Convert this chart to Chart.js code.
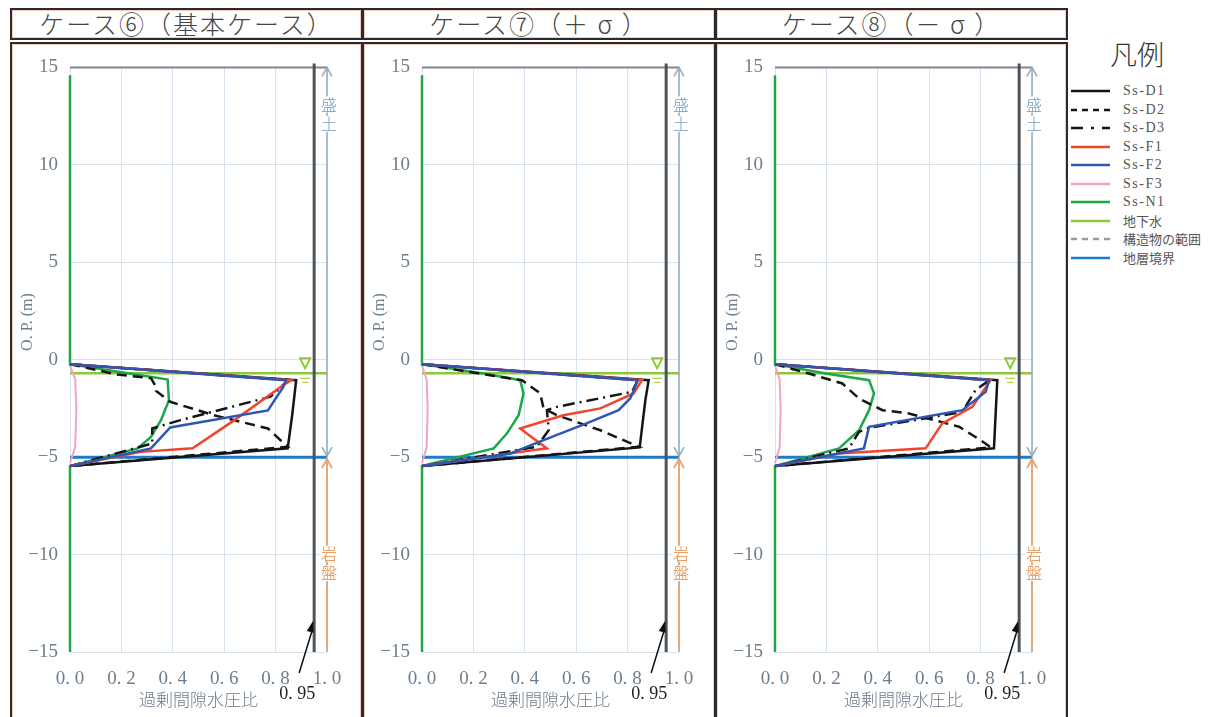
<!DOCTYPE html>
<html>
<head>
<meta charset="utf-8">
<script src="https://cdn.jsdelivr.net/npm/chart.js@4.4.0/dist/chart.umd.min.js"></script>
<style>
  body { margin:0; background:#fff; width:1225px; height:717px; position:relative; overflow:hidden;
         font-family:"Noto Sans CJK JP", sans-serif; }
  .hdr { position:absolute; top:8px; height:32px; box-sizing:border-box; border:2px solid #2b2b2b;
         box-shadow: inset 0 0 0 1px #f3cdbf; text-align:center; font-size:25px; line-height:27px; color:#444;
         font-weight:300; letter-spacing:2px; }
  .panel { position:absolute; top:42px; height:690px; box-sizing:border-box; border:2px solid #2b2b2b;
           box-shadow: inset 0 0 0 1px #f3cdbf; }
  canvas { position:absolute; }
  #legend { position:absolute; left:1068px; top:30px; width:157px; }
  #legend .ttl { position:absolute; left:42px; top:4px; font-size:27px; color:#333; font-weight:300; }
  #legend .it { position:absolute; left:0; height:18px; font-size:13px; color:#555; white-space:nowrap; }
  #legend .it svg { position:absolute; left:2px; top:4px; }
  #legend .it span { position:absolute; left:55px; top:0; line-height:18px; }
  .ser { font-family:"Liberation Serif", serif; letter-spacing:1.5px; font-size:14px; }
</style>
</head>
<body>
<div id="frames"></div>
<div id="legend"><div class="ttl">凡例</div></div>
<script>
// ---- data ----
const caseTitles = ['ケース⑥（基本ケース）', 'ケース⑦（＋ σ ）', 'ケース⑧（－ σ ）'];
const seriesNames = ['Ss-D1', 'Ss-D2', 'Ss-D3', 'Ss-F1', 'Ss-F2', 'Ss-F3', 'Ss-N1'];
const xTicks = [0, 0.2, 0.4, 0.6, 0.8, 1.0];
const yTicks = [15, 10, 5, 0, -5, -10, -15];
const groundwaterLevel = -0.7;
const layerBoundary = -5.0;
const limitRatio = 0.95;
const fillTop = 15;

// case 6 [ratio, O.P.]
const c6_D1 = [[0,-0.23],[0.88,-1.05],[0.865,-2.8],[0.847,-4.55],[0,-5.46]];
const c6_D2 = [[0,-0.23],[0.18,-0.75],[0.315,-0.95],[0.335,-1.4],[0.335,-1.6],[0.39,-2.16],[0.56,-2.85],[0.77,-3.53],[0.847,-4.47],[0,-5.46]];
const c6_D3 = [[0,-0.23],[0.85,-1.05],[0.78,-1.9],[0.43,-3.1],[0.32,-3.53],[0.32,-4.3],[0,-5.46]];
const c6_F1 = [[0,-0.23],[0.86,-1.05],[0.82,-1.4],[0.64,-3.1],[0.477,-4.55],[0.276,-4.73],[0,-5.46]];
const c6_F2 = [[0,-0.23],[0.84,-1.05],[0.83,-1.4],[0.77,-2.6],[0.39,-3.48],[0.315,-4.55],[0,-5.46]];
const c6_F3 = [[0,-0.3],[0.02,-1.0],[0.025,-2.5],[0.02,-4.5],[0,-5.3]];
const c6_N1 = [[0,14.6],[0,-0.23],[0.25,-0.75],[0.38,-1.02],[0.385,-2.08],[0.354,-3.1],[0.315,-3.96],[0.263,-4.55],[0,-5.46],[0,-15]];

// case 7
const c7_D1 = [[0,-0.23],[0.882,-1.05],[0.869,-2.08],[0.847,-4.5],[0,-5.46]];
const c7_D2 = [[0,-0.23],[0.24,-0.75],[0.389,-1.05],[0.46,-1.73],[0.473,-2.5],[0.525,-2.85],[0.694,-3.62],[0.843,-4.47],[0,-5.46]];
const c7_D3 = [[0,-0.23],[0.84,-1.05],[0.817,-1.65],[0.525,-2.42],[0.486,-2.59],[0.493,-3.62],[0.447,-4.47],[0,-5.46]];
const c7_F1 = [[0,-0.23],[0.856,-1.05],[0.823,-1.73],[0.694,-2.5],[0.55,-2.85],[0.382,-3.53],[0.434,-4.04],[0.486,-4.55],[0.434,-4.64],[0,-5.46]];
const c7_F2 = [[0,-0.23],[0.837,-1.05],[0.83,-1.4],[0.81,-1.99],[0.765,-2.59],[0.64,-3.27],[0.473,-4.13],[0.344,-4.81],[0,-5.46]];
const c7_F3 = [[0,-0.3],[0.018,-1.0],[0.022,-2.5],[0.018,-4.5],[0,-5.3]];
const c7_N1 = [[0,14.6],[0,-0.23],[0.24,-0.71],[0.382,-1.05],[0.395,-1.73],[0.376,-2.85],[0.33,-3.79],[0.279,-4.55],[0,-5.46],[0,-15]];

// case 8
const c8_D1 = [[0,-0.23],[0.865,-1.05],[0.852,-4.55],[0,-5.46]];
const c8_D2 = [[0,-0.23],[0.132,-0.71],[0.262,-1.22],[0.327,-1.99],[0.418,-2.59],[0.521,-2.76],[0.716,-3.44],[0.8,-4.13],[0.84,-4.5],[0,-5.46]];
const c8_D3 = [[0,-0.23],[0.835,-1.05],[0.78,-1.56],[0.729,-2.68],[0.366,-3.5],[0.327,-3.7],[0.288,-4.55],[0,-5.46]];
const c8_F1 = [[0,-0.23],[0.839,-1.05],[0.768,-2.42],[0.651,-3.27],[0.586,-4.55],[0.25,-4.81],[0,-5.46]];
const c8_F2 = [[0,-0.23],[0.833,-1.05],[0.82,-1.65],[0.729,-2.59],[0.366,-3.44],[0.346,-4.55],[0,-5.46]];
const c8_F3 = [[0,-0.3],[0.018,-1.0],[0.022,-2.5],[0.018,-4.5],[0,-5.3]];
const c8_N1 = [[0,14.6],[0,-0.23],[0.197,-0.71],[0.366,-1.05],[0.385,-1.73],[0.366,-2.59],[0.327,-3.62],[0.249,-4.55],[0,-5.46],[0,-15]];

const cases = [
  [c6_D1, c6_D2, c6_D3, c6_F1, c6_F2, c6_F3, c6_N1],
  [c7_D1, c7_D2, c7_D3, c7_F1, c7_F2, c7_F3, c7_N1],
  [c8_D1, c8_D2, c8_D3, c8_F1, c8_F2, c8_F3, c8_N1]
];

// ---- styles ----
const seriesStyle = [
  { color:'#151515', dash:[], order:3 },
  { color:'#151515', dash:[10,6], order:4 },
  { color:'#151515', dash:[12,5,2,5], order:2 },
  { color:'#f2432c', dash:[], order:1 },
  { color:'#2f55b5', dash:[], order:0 },
  { color:'#f4a3c6', dash:[], order:6 },
  { color:'#1ea64a', dash:[], order:5 }
];
const gwColor = '#8dc63f';
const boundaryColor = '#1f7bc8';
const gridColor = '#d6e3ee';
const tickColor = '#6c7d8c';

const panelLefts = [10, 362, 715];
const panelRights = [361, 714, 1066];

function pts(a) { return a.map(p => ({ x: p[0], y: p[1] })); }

// frames
const frames = document.getElementById('frames');
for (let i = 0; i < 3; i++) {
  const h = document.createElement('div');
  h.className = 'hdr';
  h.style.left = panelLefts[i] + 'px';
  h.style.width = (panelRights[i] - panelLefts[i] + 2) + 'px';
  h.textContent = caseTitles[i];
  frames.appendChild(h);
  const p = document.createElement('div');
  p.className = 'panel';
  p.style.left = panelLefts[i] + 'px';
  p.style.width = (panelRights[i] - panelLefts[i] + 2) + 'px';
  frames.appendChild(p);
}

// extra drawing: arrows, groundwater mark, 0.95 note, axis title
const extras = {
  id: 'extras',
  afterDatasetsDraw(chart) {
    const ctx = chart.ctx, xs = chart.scales.x, ys = chart.scales.y, ca = chart.chartArea;
    const xr = xs.getPixelForValue(1.0);
    ctx.save();
    // 盛土 arrow
    ctx.strokeStyle = '#93abbf'; ctx.lineWidth = 1.5;
    const yTop = ys.getPixelForValue(fillTop), yB = ys.getPixelForValue(layerBoundary), yBot = ys.getPixelForValue(-15);
    ctx.beginPath(); ctx.moveTo(xr, yTop); ctx.lineTo(xr, yB - 1); ctx.stroke();
    ctx.beginPath(); ctx.moveTo(xr - 5, yTop + 9); ctx.lineTo(xr, yTop); ctx.lineTo(xr + 5, yTop + 9); ctx.stroke();
    ctx.beginPath(); ctx.moveTo(xr - 5, yB - 10); ctx.lineTo(xr, yB - 1); ctx.lineTo(xr + 5, yB - 10); ctx.stroke();
    // 岩盤 arrow
    ctx.strokeStyle = '#e6a676'; ctx.lineWidth = 2;
    ctx.beginPath(); ctx.moveTo(xr, yB + 2); ctx.lineTo(xr, yBot); ctx.stroke();
    ctx.beginPath(); ctx.moveTo(xr - 5, yB + 11); ctx.lineTo(xr, yB + 2); ctx.lineTo(xr + 5, yB + 11); ctx.stroke();
    // labels
    ctx.font = '300 16px "Noto Sans CJK JP"'; ctx.textAlign = 'center'; ctx.textBaseline = 'middle';
    const lbl = (ch, y, col) => {
      ctx.fillStyle = '#fff'; ctx.fillRect(xr - 7, y - 8, 14, 16);
      ctx.fillStyle = col; ctx.fillText(ch, xr + 2, y);
    };
    lbl('盛', ys.getPixelForValue(13.1), '#6f9dc0');
    lbl('土', ys.getPixelForValue(12.1), '#6f9dc0');
    lbl('岩', ys.getPixelForValue(-9.95), '#e38a45');
    lbl('盤', ys.getPixelForValue(-10.95), '#e38a45');
    // groundwater mark
    const gx = xs.getPixelForValue(0.915), gy = ys.getPixelForValue(groundwaterLevel);
    ctx.strokeStyle = gwColor; ctx.lineWidth = 2;
    ctx.beginPath(); ctx.moveTo(gx - 5, gy - 15); ctx.lineTo(gx + 5, gy - 15); ctx.lineTo(gx, gy - 5); ctx.closePath(); ctx.stroke();
    ctx.lineWidth = 1.2; ctx.strokeStyle = '#b5d24a';
    ctx.beginPath(); ctx.moveTo(gx - 5, gy + 5); ctx.lineTo(gx + 5, gy + 5);
    ctx.moveTo(gx - 3, gy + 9); ctx.lineTo(gx + 3, gy + 9); ctx.stroke();
    // 0.95 note
    const x95 = xs.getPixelForValue(limitRatio);
    const tipY = ys.getPixelForValue(-13.4);
    const sx = x95 - 15, sy = ca.bottom + 21;
    ctx.strokeStyle = '#111'; ctx.fillStyle = '#111'; ctx.lineWidth = 1.5;
    ctx.beginPath(); ctx.moveTo(sx, sy); ctx.lineTo(x95 - 1.5, tipY + 8); ctx.stroke();
    const ang = Math.atan2(tipY - sy, x95 - 1 - sx);
    ctx.beginPath(); ctx.moveTo(x95 - 1, tipY);
    ctx.lineTo(x95 - 1 - 12 * Math.cos(ang - 0.3), tipY - 12 * Math.sin(ang - 0.3));
    ctx.lineTo(x95 - 1 - 12 * Math.cos(ang + 0.3), tipY - 12 * Math.sin(ang + 0.3));
    ctx.closePath(); ctx.fill();
    ctx.font = '18px "Liberation Serif"'; ctx.fillStyle = '#222';
    ctx.fillText('0. 95', x95 - 17, ca.bottom + 42);
    // y axis title
    ctx.translate(ca.left - 42, 278);
    ctx.rotate(-Math.PI / 2);
    ctx.font = '16px "Liberation Serif"'; ctx.fillStyle = tickColor;
    ctx.fillText('O. P. (m)', 0, 0);
    ctx.restore();
  }
};

for (let i = 0; i < 3; i++) {
  const cv = document.createElement('canvas');
  cv.style.left = panelLefts[i] + 'px';
  cv.style.top = '44px';
  cv.style.width = '350px'; cv.style.height = '673px';
  cv.width = 350; cv.height = 673;
  document.body.appendChild(cv);

  const datasets = cases[i].map((s, k) => ({
    label: seriesNames[k],
    data: pts(s),
    borderColor: seriesStyle[k].color,
    borderDash: seriesStyle[k].dash,
    borderWidth: k === 5 ? 2 : 2.5,
    order: seriesStyle[k].order,
    showLine: true, pointRadius: 0, tension: 0, clip: false
  }));
  datasets.push({ label: '地下水', data: pts([[0, groundwaterLevel], [1.0, groundwaterLevel]]),
    borderColor: gwColor, borderWidth: 2.5, showLine: true, pointRadius: 0, order: 9, clip: false });
  datasets.push({ label: '地層境界', data: pts([[0, layerBoundary], [1.0, layerBoundary]]),
    borderColor: boundaryColor, borderWidth: 3, showLine: true, pointRadius: 0, order: 8, clip: false });
  datasets.push({ label: 'top', data: pts([[0, fillTop], [1.0, fillTop]]),
    borderColor: '#80878c', borderWidth: 2, showLine: true, pointRadius: 0, order: 10, clip: false });
  datasets.push({ label: '0.95', data: pts([[limitRatio, fillTop + 0.2], [limitRatio, -15]]),
    borderColor: '#4e5459', borderWidth: 3, showLine: true, pointRadius: 0, order: 7, clip: false });

  new Chart(cv, {
    type: 'scatter',
    data: { datasets },
    options: {
      responsive: false, animation: false,
      layout: { padding: { top: 23, right: 33, left: 0, bottom: 0 } },
      plugins: { legend: { display: false }, tooltip: { enabled: false } },
      scales: {
        x: {
          type: 'linear', min: 0, max: 1.0,
          afterBuildTicks: s => { s.ticks = xTicks.map(v => ({ value: v })); },
          afterFit: s => { s.height = 65; },
          grid: { color: gridColor, drawTicks: false, lineWidth: 1 },
          border: { display: false },
          ticks: { padding: 16, color: tickColor, font: { family: 'Liberation Serif', size: 19 },
                   callback: v => v.toFixed(1).replace('.', '. ') },
          title: { display: true, text: '過剰間隙水圧比', color: tickColor, padding: { top: 0, bottom: 7 },
                   font: { family: 'Noto Sans CJK JP', size: 17, weight: 300 } }
        },
        y: {
          type: 'linear', min: -15, max: 15,
          afterBuildTicks: s => { s.ticks = yTicks.map(v => ({ value: v })); },
          afterFit: s => { s.width = 60; },
          grid: { color: gridColor, drawTicks: false, lineWidth: 1 },
          border: { display: false },
          ticks: { padding: 12, color: tickColor, font: { family: 'Liberation Serif', size: 19 },
                   callback: v => v < 0 ? '−' + Math.abs(v) : String(v) }
        }
      }
    },
    plugins: [extras]
  });
}

// legend
const legendItems = [
  { name: 'Ss-D1', color: '#151515', dash: '' },
  { name: 'Ss-D2', color: '#151515', dash: '6 5' },
  { name: 'Ss-D3', color: '#151515', dash: '12 8 3 8' },
  { name: 'Ss-F1', color: '#f2432c', dash: '' },
  { name: 'Ss-F2', color: '#3553a8', dash: '' },
  { name: 'Ss-F3', color: '#f4a3c6', dash: '' },
  { name: 'Ss-N1', color: '#1ea64a', dash: '' },
  { name: '地下水', color: gwColor, dash: '' },
  { name: '構造物の範囲', color: '#9a9a9a', dash: '6 5' },
  { name: '地層境界', color: boundaryColor, dash: '' }
];
const leg = document.getElementById('legend');
legendItems.forEach((it, i) => {
  const d = document.createElement('div');
  d.className = 'it';
  d.style.top = (52 + i * 18.5) + 'px';
  const ser = it.name.startsWith('Ss');
  d.innerHTML = '<svg width="42" height="10"><line x1="1" y1="5" x2="40" y2="5" stroke="' + it.color +
    '" stroke-width="2.5"' + (it.dash ? ' stroke-dasharray="' + it.dash + '"' : '') + '/></svg>' +
    '<span class="' + (ser ? 'ser' : '') + '">' + it.name + '</span>';
  leg.appendChild(d);
});
</script>
</body>
</html>
